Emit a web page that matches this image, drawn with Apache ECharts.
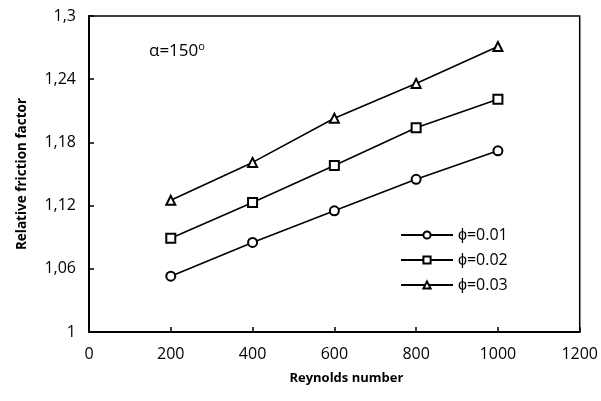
<!DOCTYPE html>
<html>
<head>
<meta charset="utf-8">
<script src="https://cdn.jsdelivr.net/npm/echarts@6/dist/echarts.min.js"></script>
<style>
  html, body { margin: 0; padding: 0; background: #fff; }
  #chart { width: 601px; height: 401px; }
</style>
</head>
<body>
<div id="chart"></div>
<script>
  var reynolds = [200, 400, 600, 800, 1000]
  var phi001 = [1.053, 1.085, 1.115, 1.145, 1.172]
  var phi002 = [1.089, 1.123, 1.158, 1.194, 1.221]
  var phi003 = [1.125, 1.161, 1.203, 1.236, 1.271]
  var seriesNames = ['ϕ=0.01', 'ϕ=0.02', 'ϕ=0.03']
  var symbols = ['emptyCircle', 'emptyRect', 'emptyTriangle']

  var font = '"Open Sans", "Liberation Sans", sans-serif'

  function pairs(ys) {
    return reynolds.map(function (x, i) { return [x, ys[i]] })
  }

  var chart = echarts.init(document.getElementById('chart'))
  var lists = [phi001, phi002, phi003]

  chart.setOption({
    animation: false,
    title: {
      text: 'α=150{sup|o}',
      left: 144,
      top: 36,
      textStyle: {
        fontFamily: font,
        fontSize: 17,
        fontWeight: 'normal',
        color: '#000',
        rich: {
          sup: { fontFamily: font, fontSize: 11, verticalAlign: 'top', padding: [0, 0, 9, 0], color: '#000' }
        }
      }
    },
    legend: {
      left: 395,
      top: 222,
      orient: 'vertical',
      itemWidth: 52,
      itemHeight: 9,
      itemGap: 9,
      textStyle: { fontFamily: font, fontSize: 16, color: '#000' },
      data: seriesNames
    },
    grid: {
      left: 89, right: 21, top: 16, bottom: 69,
      show: true,
      borderColor: '#000',
      borderWidth: 1.5
    },
    xAxis: {
      type: 'value',
      min: 0, max: 1200, interval: 200,
      name: 'Reynolds number',
      nameLocation: 'middle',
      nameGap: 40,
      nameTextStyle: { fontFamily: font, fontSize: 13, fontWeight: 'bold', color: '#000', padding: [0, 0, 0, 24] },
      axisLine: { show: true, lineStyle: { color: '#000', width: 2 } },
      axisTick: { show: true, inside: true, length: 5, lineStyle: { color: '#000', width: 1.5 } },
      axisLabel: {
        fontFamily: font, fontSize: 16, color: '#000', margin: 14,
        formatter: function (v) { return String(v) }
      },
      splitLine: { show: false }
    },
    yAxis: {
      type: 'value',
      min: 1, max: 1.3, interval: 0.06,
      name: 'Relative friction factor',
      nameLocation: 'middle',
      nameGap: 60,
      nameTextStyle: { fontFamily: font, fontSize: 13.5, fontWeight: 'bold', color: '#000' },
      axisLine: { show: true, lineStyle: { color: '#000', width: 2 } },
      axisTick: { show: true, inside: true, length: 5, lineStyle: { color: '#000', width: 1.5 } },
      axisLabel: {
        fontFamily: font, fontSize: 16, color: '#000', margin: 13,
        formatter: function (v) { return String(Math.round(v * 100) / 100).replace('.', ',') }
      },
      splitLine: { show: false }
    },
    series: seriesNames.map(function (name, i) {
      return {
        name: name,
        type: 'line',
        data: pairs(lists[i]),
        symbol: symbols[i],
        symbolSize: 9,
        color: '#000',
        lineStyle: { color: '#000', width: 1.6 },
        itemStyle: { color: '#000', borderColor: '#000', borderWidth: 1.8 }
      }
    })
  })
</script>
</body>
</html>
